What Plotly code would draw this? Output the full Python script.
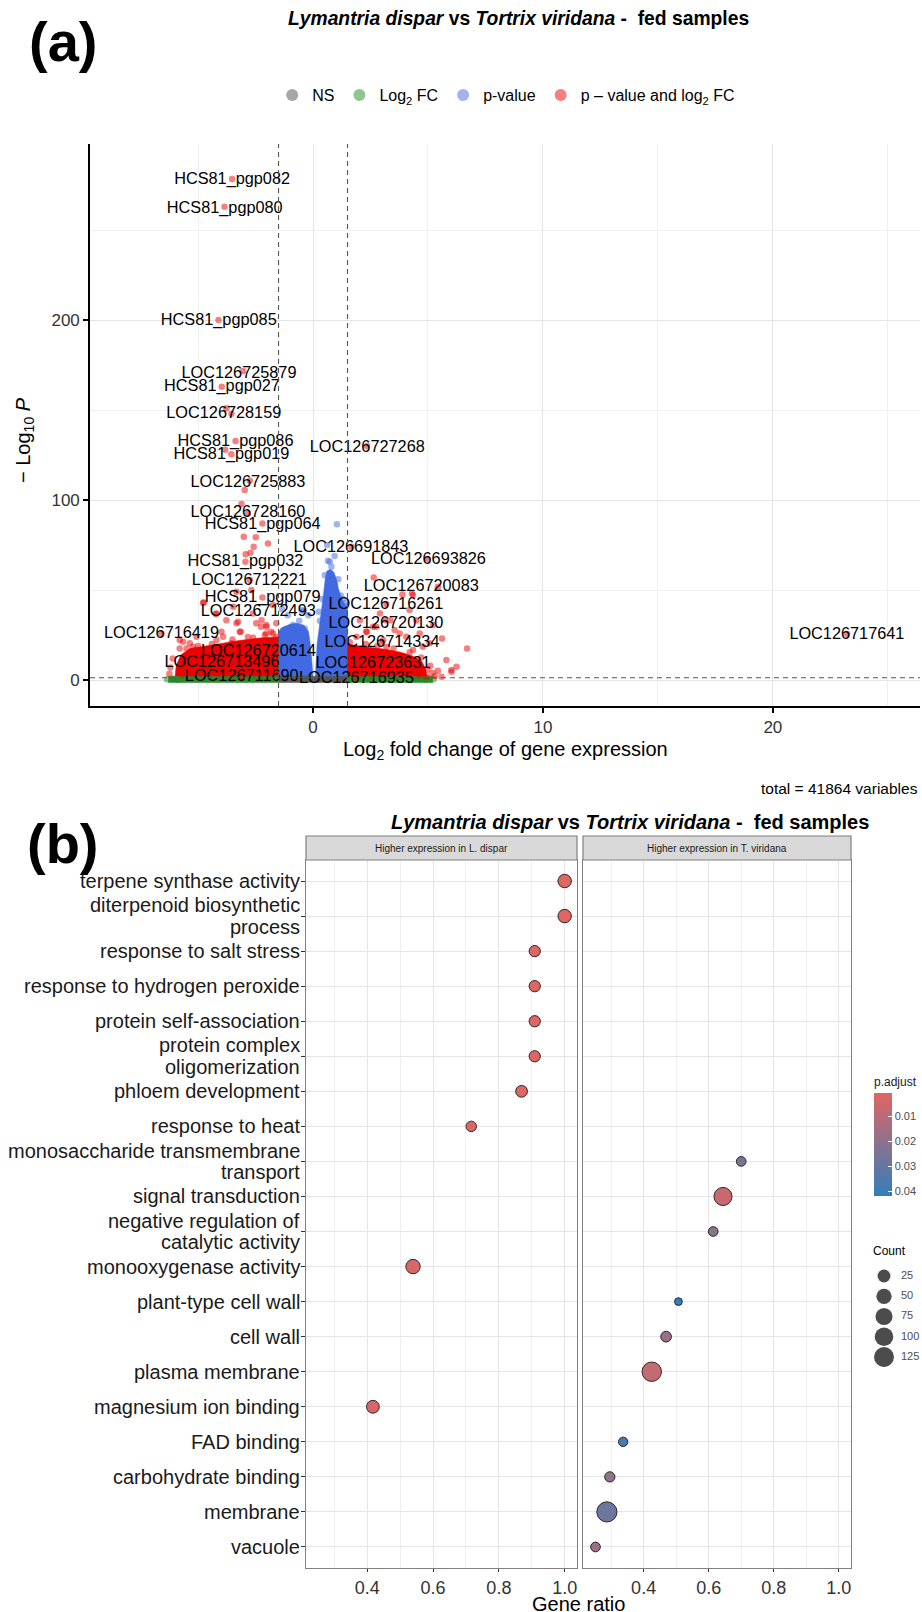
import math
import plotly.graph_objects as go

W, H = 922, 1612
FONT = "Liberation Sans, Arial, Helvetica, sans-serif"


def pxx(p):
    return p / W


def pxy(p):
    return 1 - p / H


# ---------------- Panel (a): volcano plot data ----------------
lab_names = ["HCS81_pgp082", "HCS81_pgp080", "HCS81_pgp085", "LOC126725879", "HCS81_pgp027",
             "LOC126728159", "HCS81_pgp086", "HCS81_pgp019", "LOC126727268", "LOC126725883",
             "LOC126728160", "HCS81_pgp064", "LOC126691843", "LOC126693826", "HCS81_pgp032",
             "LOC126712221", "LOC126720083", "HCS81_pgp079", "LOC126716261", "LOC126712493",
             "LOC126720130", "LOC126716419", "LOC126714334", "LOC126720614", "LOC126713496",
             "LOC126723631", "LOC126711690", "LOC126716935", "LOC126717641"]
lab_x = [-3.52, -3.84, -4.10, -3.22, -3.96, -3.88, -3.37, -3.55, 2.36, -2.83,
         -2.83, -2.19, 1.65, 5.02, -2.94, -2.77, 4.71, -2.19, 3.17, -2.38,
         3.17, -6.59, 3.00, -2.37, -3.96, 2.61, -3.10, 1.89, 23.22]
lab_y = [278.0, 262.0, 199.6, 170.0, 162.6, 147.8, 132.4, 125.0, 128.7, 109.3,
         93.1, 86.1, 73.5, 66.7, 65.4, 55.0, 51.9, 45.4, 41.7, 37.6,
         31.1, 25.4, 20.9, 15.7, 9.6, 8.9, 1.5, 0.6, 25.0]
lab_pt_x = [-3.52, -3.85, -4.11, -3.04, -3.97, -3.77, -3.37, -3.55, 2.35, -2.75,
            -3.11, -2.20, 1.67, 4.97, -2.94, -2.75, 5.43, -2.20, 3.19, -2.61,
            3.36, -6.59, 3.00, -3.77, -3.96, 2.61, -3.10, 1.89, 23.23]
lab_pt_y = [278.3, 263.0, 200.0, 171.7, 163.0, 151.0, 132.8, 125.4, 130.0, 110.7,
            97.8, 87.0, 74.0, 67.2, 65.7, 55.6, 51.9, 45.9, 42.2, 37.0,
            33.3, 25.9, 21.0, 15.7, 9.6, 8.9, 1.5, 1.5, 25.6]

red_x = [-3.82, -3.55, -2.97, -2.83, -3.01, -2.49, -1.96, -2.58, -2.72, -2.93,
         -2.68, -3.33, -4.75, -4.23, -2.24, -2.03, -3.98, -3.14, -5.65, -5.80,
         -5.22, -1.74, -2.83, -5.72, -3.47, -1.74, -2.47, -3.26, -2.03, -4.20,
         -5.10, -4.78, -1.60, -2.10, -2.60, -3.50, -4.40, -5.00, -5.50, -6.10,
         -6.20, -6.25, -4.20, -3.77, -3.33, -3.19, -2.26, -2.04, -1.82, -1.60,
         -5.07, -5.36, -5.80, -3.91, -3.55,
         2.64, 4.30, 3.89, 4.35, 4.49, 5.22, 2.61, 3.77, 5.61, 6.70,
         5.43, 6.02, 5.59, 4.62, 4.98, 3.19, 4.35, 2.33, 3.05, 6.02,
         4.93, 1.60, 2.30, 2.80, 3.50, 4.20, 4.70, 5.10, 5.20, 5.30,
         1.89, 2.32, 2.75, 3.12, 3.55, 4.06, 4.64, 5.07, 5.80, 6.24,
         2.04, 2.91, 4.20, 4.78]
red_y = [128.0, 148.0, 105.6, 92.6, 79.6, 79.3, 75.9, 74.1, 70.7, 69.9,
         50.0, 49.0, 43.1, 36.7, 33.3, 29.6, 26.9, 26.9, 21.3, 17.6,
         18.5, 25.9, 24.0, 3.7, 40.7, 41.7, 31.5, 32.4, 30.6, 22.2,
         16.7, 43.0, 24.0, 25.0, 23.5, 22.5, 20.0, 19.0, 17.5, 12.0,
         7.0, 3.5, 37.0, 33.3, 31.5, 26.9, 29.6, 25.9, 26.9, 31.5,
         24.1, 20.4, 22.2, 24.1, 20.4,
         57.0, 48.1, 47.6, 47.2, 33.3, 30.6, 29.6, 25.9, 23.1, 17.6,
         5.2, 4.6, 1.9, 2.8, 5.6, 18.5, 16.7, 26.9, 22.2, 5.6,
         1.9, 21.0, 20.0, 19.0, 17.5, 15.5, 12.5, 8.0, 4.0, 2.2,
         24.1, 26.9, 29.6, 33.3, 27.8, 24.1, 25.9, 20.4, 11.1, 7.4,
         33.3, 37.0, 38.9, 18.5]

blue_x = [1.04, 0.61, 0.94, 0.65, 0.73, 0.80, 0.51, 0.94, 0.40, 1.20,
          -0.87, -0.36, -1.30, -0.60, -1.10, -0.40, 1.40, 0.30, -1.35, -0.50, -0.20,
          1.30, 1.45, 0.25, 1.10]
blue_y = [86.5, 75.0, 68.9, 66.3, 65.7, 63.0, 58.3, 52.8, 45.0, 47.0,
          30.6, 28.7, 27.8, 33.0, 36.0, 38.5, 41.0, 33.0, 39.5, 38.8, 36.0,
          45.0, 43.0, 38.0, 56.0]

green_x = [-6.35, -6.10, -5.90, 5.25, 5.05, 4.90, -1.60, 1.60]
green_y = [0.4, 0.9, 0.2, 0.5, 1.0, 0.2, 0.8, 0.6]

grey_x = [-1.30, 1.30, -0.20, 0.20]
grey_y = [0.6, 0.5, 0.9, 0.3]

# dense cores of the point clouds (outlines)
blue_left_x = [-1.50, -1.50, -1.30, -1.00, -0.70, -0.40, -0.20, -0.12, -0.05, 0.00]
blue_left_y = [1.5, 27.0, 29.5, 31.0, 31.5, 30.5, 27.0, 20.0, 10.0, 1.5]
blue_right_x = [0.10, 0.13, 0.18, 0.26, 0.34, 0.42, 0.48, 0.53, 0.60, 0.75, 0.90, 1.02,
                1.10, 1.22, 1.38, 1.50, 1.50]
blue_right_y = [1.5, 10.0, 20.0, 28.0, 35.0, 42.0, 50.0, 56.0, 60.5, 61.5, 60.0, 56.0,
                51.0, 46.0, 42.0, 40.0, 1.5]
red_left_x = [-1.50, -1.50, -2.20, -3.20, -3.90, -4.60, -5.35, -5.75, -5.95, -6.00]
red_left_y = [1.5, 24.0, 23.5, 22.0, 20.5, 19.0, 17.5, 14.0, 8.0, 1.5]
red_right_x = [1.50, 1.50, 2.00, 2.60, 3.20, 3.80, 4.30, 4.70, 4.90, 4.95]
red_right_y = [1.5, 20.0, 19.0, 18.0, 17.0, 15.5, 13.5, 11.0, 6.0, 1.5]
green_left_x = [-6.30, -1.50, -1.50, -6.30]
green_left_y = [-1.4, -1.4, 2.0, 2.0]
green_right_x = [1.50, 5.20, 5.20, 1.50]
green_right_y = [-1.4, -1.4, 2.0, 2.0]
grey_band_x = [-1.50, 1.50, 1.50, -1.50]
grey_band_y = [-1.4, -1.4, 2.0, 2.0]

fc_cutoff = 1.5
p_cutoff = 1.3  # -log10(0.05)

# ---------------- Panel (b): GO dot plot data ----------------
go_terms = ["terpene synthase activity", "diterpenoid biosynthetic\nprocess", "response to salt stress",
            "response to hydrogen peroxide", "protein self-association", "protein complex\noligomerization",
            "phloem development", "response to heat", "monosaccharide transmembrane\ntransport",
            "signal transduction", "negative regulation of\ncatalytic activity", "monooxygenase activity",
            "plant-type cell wall", "cell wall", "plasma membrane", "magnesium ion binding",
            "FAD binding", "carbohydrate binding", "membrane", "vacuole"]
go_side = ["L", "L", "L", "L", "L", "L", "L", "L", "T", "T", "T", "L", "T", "T", "T", "L", "T", "T", "T", "T"]
gene_ratio = [1.0, 1.0, 0.909, 0.909, 0.909, 0.909, 0.869, 0.716, 0.700, 0.644,
              0.614, 0.539, 0.507, 0.469, 0.425, 0.417, 0.337, 0.296, 0.287, 0.252]
go_count = [30, 30, 14, 14, 14, 14, 17, 10, 7, 91, 7, 40, 4, 11, 115, 25, 6, 9, 130, 7]
p_adjust = [0.0005, 0.0006, 0.0012, 0.0012, 0.0012, 0.0012, 0.0015, 0.0022, 0.026, 0.006,
            0.021, 0.0025, 0.042, 0.017, 0.007, 0.003, 0.037, 0.019, 0.028, 0.017]
facet_labels = ["Higher expression in L. dispar", "Higher expression in T. viridana"]
count_breaks = [25, 50, 75, 100, 125]
padj_ticks = [0.01, 0.02, 0.03, 0.04]
ratio_range = [0.2136, 1.0375]

# ---------------- styles ----------------
C_RED = "rgba(238,0,0,0.5)"
C_BLUE = "rgba(65,105,225,0.5)"
C_GREEN = "rgba(34,139,34,0.5)"
C_GREY = "rgba(77,77,77,0.5)"
PT = 6.5

fig = go.Figure()


def poly(xs, ys, color):
    fig.add_trace(go.Scatter(x=xs, y=ys, mode="lines", fill="toself", fillcolor=color,
                             line=dict(width=0.6, color=color), hoverinfo="skip",
                             showlegend=False, xaxis="x", yaxis="y"))


poly(blue_left_x, blue_left_y, "#4169E1")
poly(blue_right_x, blue_right_y, "#4169E1")
poly(red_left_x, red_left_y, "#EE0000")
poly(red_right_x, red_right_y, "#EE0000")
poly(grey_band_x, grey_band_y, "#555555")
poly(green_left_x, green_left_y, "#2A8A2A")
poly(green_right_x, green_right_y, "#2A8A2A")


def pts(xs, ys, color, name, legend=True):
    fig.add_trace(go.Scatter(x=xs, y=ys, mode="markers", name=name, showlegend=legend,
                             marker=dict(size=PT, color=color, line=dict(width=0)),
                             xaxis="x", yaxis="y"))


pts(grey_x, grey_y, C_GREY, "NS")
pts(green_x, green_y, C_GREEN, "Log<sub>2</sub> FC")
pts(blue_x, blue_y, C_BLUE, "p-value")
pts(red_x, red_y, C_RED, "p \u2013 value and log<sub>2</sub> FC")
pts(lab_pt_x, lab_pt_y, C_RED, "labelled", legend=False)

fig.add_trace(go.Scatter(x=lab_x, y=lab_y, mode="text", text=lab_names, textposition="middle center",
                         textfont=dict(size=16.3, color="black", family=FONT), showlegend=False,
                         hoverinfo="skip", xaxis="x", yaxis="y"))

# ---------------- panel (b) traces ----------------
cnt_lo, cnt_hi = min(go_count), max(go_count)


def dot_px(c):
    return 7.8 + 12.4 * math.sqrt(max(c - cnt_lo, 0) / (cnt_hi - cnt_lo))


pmin, pmax = min(p_adjust), max(p_adjust)
# colour bar runs with small p at the top (as in the reference): map colour to -p
CSCALE = [[0, "#327eba"], [1, "#e06663"]]

for side, xa, ya, show in [("L", "x3", "y3", False), ("T", "x4", "y4", True)]:
    idx = [i for i, s in enumerate(go_side) if s == side]
    mk = dict(size=[dot_px(go_count[i]) for i in idx], color=[-p_adjust[i] for i in idx],
              colorscale=CSCALE, cmin=-pmax, cmax=-pmin, line=dict(width=0.9, color="#1A1A1A"),
              opacity=1, showscale=show)
    if show:
        mk["colorbar"] = dict(x=pxx(874), xanchor="left", y=pxy(1196), yanchor="bottom",
                              len=122, lenmode="pixels", thickness=18, thicknessmode="pixels",
                              outlinewidth=0, tickvals=[-t for t in padj_ticks],
                              ticktext=[f"{t:.2f}" for t in padj_ticks],
                              ticks="inside", ticklen=4, tickcolor="white", tickwidth=1,
                              tickfont=dict(size=11, color="#4D4D4D", family=FONT),
                              title=dict(text="p.adjust", side="top", font=dict(size=12, color="#1A1A1A")),
                              xpad=0, ypad=0)
    fig.add_trace(go.Scatter(x=[gene_ratio[i] for i in idx], y=idx, mode="markers", marker=mk,
                             showlegend=False, xaxis=xa, yaxis=ya))

# Count legend (size key)
fig.add_trace(go.Scatter(x=[0.24] * len(count_breaks), y=count_breaks, mode="markers",
                         marker=dict(size=[dot_px(c) for c in count_breaks], color="black", line=dict(width=0)),
                         showlegend=False, hoverinfo="skip", xaxis="x5", yaxis="y5"))
fig.add_trace(go.Scatter(x=[0.58] * len(count_breaks), y=count_breaks, mode="text",
                         text=[str(c) for c in count_breaks], textposition="middle right",
                         textfont=dict(size=11, color="#4D4D4D", family=FONT),
                         showlegend=False, hoverinfo="skip", xaxis="x5", yaxis="y5"))

# ---------------- layout ----------------
grid_major = "#E5E5E5"
grid_minor = "#F0F0F0"

layout = dict(
    width=W, height=H, margin=dict(l=0, r=0, t=0, b=0), autosize=False,
    paper_bgcolor="white", plot_bgcolor="white",
    font=dict(family=FONT, color="black"),
    legend=dict(orientation="h", x=0.549, xanchor="center", y=pxy(95), yanchor="middle",
                font=dict(size=16, color="black"), itemsizing="constant", itemwidth=30,
                bgcolor="rgba(0,0,0,0)"),
    xaxis=dict(domain=[pxx(90), pxx(920)], range=[-9.7, 26.4], anchor="y", tick0=0, dtick=10,
               showline=True, linecolor="black", linewidth=1.6, ticks="outside", ticklen=5,
               tickwidth=1.5, tickcolor="black", tickfont=dict(size=17, color="#333333"),
               showgrid=True, gridcolor=grid_major, gridwidth=1.1, zeroline=False,
               minor=dict(tick0=0, dtick=5, showgrid=True, gridcolor=grid_minor, gridwidth=0.7)),
    yaxis=dict(domain=[pxy(706), pxy(144)], range=[-14.4, 297.8], anchor="x", tick0=0, dtick=100,
               showline=True, linecolor="black", linewidth=1.6, ticks="outside", ticklen=5,
               tickwidth=1.5, tickcolor="black", tickfont=dict(size=17, color="#333333"),
               showgrid=True, gridcolor=grid_major, gridwidth=1.1, zeroline=False,
               minor=dict(tick0=0, dtick=50, showgrid=True, gridcolor=grid_minor, gridwidth=0.7)),
)

for xa, ya, dom in [("xaxis3", "y3", [306, 577]), ("xaxis4", "y4", [583, 851])]:
    layout[xa] = dict(domain=[pxx(dom[0]), pxx(dom[1])], range=ratio_range, anchor=ya, tick0=0, dtick=0.2,
                      tickformat=".1f", showline=True, mirror=True, linecolor="#808080", linewidth=1.2,
                      ticks="outside", ticklen=3, tickcolor="#333333", tickwidth=1,
                      tickfont=dict(size=18, color="#333333"), showgrid=True, gridcolor=grid_major,
                      gridwidth=1, zeroline=False,
                      minor=dict(tick0=0, dtick=0.1, showgrid=True, gridcolor=grid_minor, gridwidth=0.6))
layout["yaxis3"] = dict(domain=[pxy(1568), pxy(860)], range=[len(go_terms) - 0.4, -0.6], anchor="x3",
                        tickvals=list(range(len(go_terms))), showticklabels=False, ticks="outside",
                        ticklen=4, tickcolor="#333333", tickwidth=1, showline=True, mirror=True,
                        linecolor="#808080", linewidth=1.2, showgrid=True, gridcolor=grid_major,
                        gridwidth=1, zeroline=False)
layout["yaxis4"] = dict(domain=[pxy(1568), pxy(860)], range=[len(go_terms) - 0.4, -0.6], anchor="x4",
                        tickvals=list(range(len(go_terms))), showticklabels=False, ticks="",
                        showline=True, mirror=True, linecolor="#808080", linewidth=1.2,
                        showgrid=True, gridcolor=grid_major, gridwidth=1, zeroline=False)
layout["xaxis5"] = dict(domain=[pxx(872), pxx(922)], range=[0, 1], anchor="y5", visible=False, fixedrange=True)
layout["yaxis5"] = dict(domain=[pxy(1367), pxy(1266)], range=[137.3, 12.6], anchor="x5", visible=False,
                        fixedrange=True)

fig.update_layout(**layout)

# cut-off lines
dash = "5px,4px"
shapes = [
    dict(type="line", xref="x", yref="y domain", x0=-fc_cutoff, x1=-fc_cutoff, y0=0, y1=1,
         line=dict(color="#555555", width=1.1, dash=dash), layer="above"),
    dict(type="line", xref="x", yref="y domain", x0=fc_cutoff, x1=fc_cutoff, y0=0, y1=1,
         line=dict(color="#555555", width=1.1, dash=dash), layer="above"),
    dict(type="line", xref="x domain", yref="y", x0=0, x1=1, y0=p_cutoff, y1=p_cutoff,
         line=dict(color="#555555", width=1.1, dash=dash), layer="above"),
]
for dom in [[306, 577], [583, 851]]:
    shapes.append(dict(type="rect", xref="paper", yref="paper", x0=pxx(dom[0]), x1=pxx(dom[1]),
                       y0=pxy(860), y1=pxy(836), fillcolor="#D9D9D9",
                       line=dict(color="#808080", width=1.2), layer="above"))
fig.update_layout(shapes=shapes)

title_txt = "<b><i>Lymantria dispar</i> vs <i>Tortrix viridana</i> -&nbsp; fed samples</b>"
ann = [
    dict(text="<b>(a)</b>", x=pxx(63), y=pxy(41), xanchor="center", yanchor="middle", font=dict(size=56)),
    dict(text="<b>(b)</b>", x=pxx(63), y=pxy(843), xanchor="center", yanchor="middle", font=dict(size=56)),
    dict(text=title_txt, x=pxx(518), y=pxy(19), xanchor="center", yanchor="middle", font=dict(size=19.3)),
    dict(text=title_txt, x=pxx(630), y=pxy(822), xanchor="center", yanchor="middle", font=dict(size=20)),
    dict(text="Log<sub>2</sub> fold change of gene expression", x=pxx(505), y=pxy(750),
         xanchor="center", yanchor="middle", font=dict(size=20)),
    dict(text="\u2212 Log<sub>10</sub> <i>P</i>", x=pxx(24), y=pxy(440), xanchor="center", yanchor="middle",
         textangle=-90, font=dict(size=20)),
    dict(text="total = 41864 variables", x=pxx(920), y=pxy(788), xanchor="right", yanchor="middle",
         font=dict(size=15.5)),
    dict(text="Gene ratio", x=pxx(578), y=pxy(1604), xanchor="center", yanchor="middle", font=dict(size=20)),
    dict(text="Count", x=pxx(871), y=pxy(1251), xanchor="left", yanchor="middle", font=dict(size=12)),
    dict(text=facet_labels[0], x=pxx((306 + 577) / 2), y=pxy(848), xanchor="center", yanchor="middle",
         font=dict(size=10, color="#1A1A1A")),
    dict(text=facet_labels[1], x=pxx((583 + 851) / 2), y=pxy(848), xanchor="center", yanchor="middle",
         font=dict(size=10, color="#1A1A1A")),
]
for a in ann:
    a.update(xref="paper", yref="paper", showarrow=False)

LINE_GAP = 21.7
for i, term in enumerate(go_terms):
    lines = term.split("\n")
    n = len(lines)
    for j, ln in enumerate(lines):
        shift = ((n - 1) / 2 - j) * LINE_GAP
        ann.append(dict(text=ln, xref="paper", yref="y3", x=pxx(302), y=i, xanchor="right",
                        yanchor="middle", yshift=shift, showarrow=False,
                        font=dict(size=20, color="#1A1A1A")))

fig.update_layout(annotations=ann)

fig.write_html("out.html", config={"displayModeBar": False},
               post_script="document.body.style.margin='0';document.body.style.padding='0';"
                           "document.body.style.overflow='hidden';")
